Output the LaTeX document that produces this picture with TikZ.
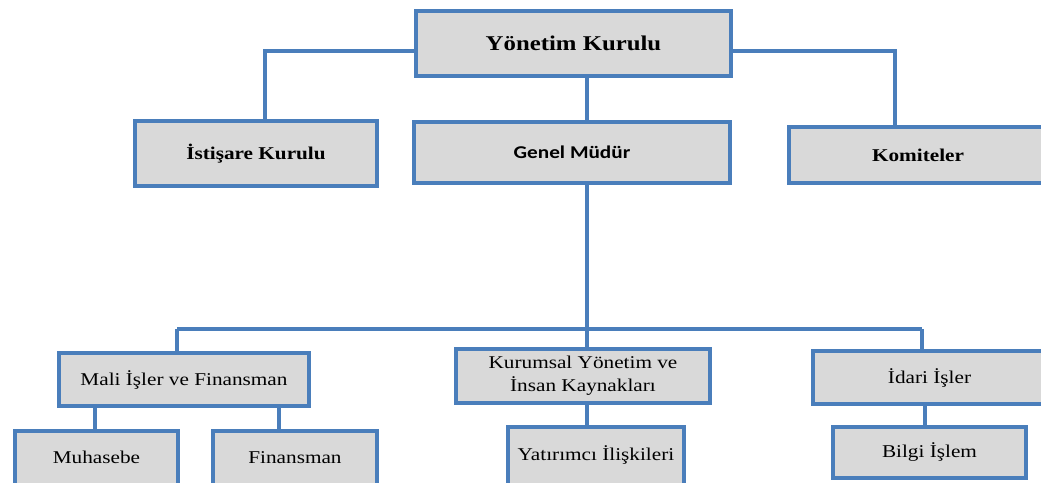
\documentclass[tikz,border=0pt]{standalone}
\usepackage{fontspec}
\setmainfont[FakeStretch=1.18]{Liberation Serif}
\newfontfamily\gmfont[FakeStretch=1.18]{Carlito}
\usetikzlibrary{shadows}
\definecolor{boxblue}{HTML}{4A7EBB}
\definecolor{boxfill}{HTML}{D9D9D9}
\begin{document}
\begin{tikzpicture}[x=1pt,y=-1pt,
  orgbox/.style={draw=boxblue, line width=3.5pt, fill=boxfill, rectangle, inner sep=0pt,
     drop shadow={shadow xshift=1.5pt, shadow yshift=-1.5pt, opacity=0.25, fill=black}},
  link/.style={draw=boxblue, line width=3.5pt},
  topfont/.style={font=\fontsize{21}{24}\selectfont\bfseries},
  midfont/.style={font=\fontsize{18}{22}\selectfont\bfseries},
  lowfont/.style={font=\fontsize{18}{22}\selectfont, align=center}]
\clip (0,0) rectangle (1041,482);
\useasboundingbox (0,0) rectangle (1041,482);
\fill[white] (0,0) rectangle (1041,482);

% top level
\node[orgbox, topfont, minimum width=315pt, minimum height=65pt] (yk) at (573.5,43.5) {Yönetim Kurulu};
\node[orgbox, midfont, minimum width=242pt, minimum height=65pt] (ik) at (256,153.5) {İstişare Kurulu};
\node[orgbox, font=\fontsize{18}{22}\selectfont\gmfont\bfseries, minimum width=316pt, minimum height=61pt] (gm) at (572,152.5) {Genel Müdür};
\node[orgbox, midfont, minimum width=258pt, minimum height=56pt] (km) at (918,155) {Komiteler};

% second level
\node[orgbox, lowfont, minimum width=250pt, minimum height=53pt] (mf) at (184,379.5) {Mali İşler ve Finansman};
\node[orgbox, lowfont, minimum width=254pt, minimum height=54pt] (ky) at (583,376) {Kurumsal Yönetim ve\\[1pt]İnsan Kaynakları};
\node[orgbox, lowfont, minimum width=233pt, minimum height=53pt] (ia) at (929.5,377.5) {İdari İşler};

% third level (boxes run past the lower edge)
\node[orgbox, minimum width=163pt, minimum height=80pt] (mh) at (96.5,471) {};
\node[lowfont] (mht) at (96.5,457) {Muhasebe};
\node[orgbox, minimum width=164pt, minimum height=80pt] (fn) at (295,471) {};
\node[lowfont] (fnt) at (295,458) {Finansman};
\node[orgbox, minimum width=176pt, minimum height=80pt] (yi) at (596,467) {};
\node[lowfont] (yit) at (596,455) {Yatırımcı İlişkileri};
\node[orgbox, lowfont, minimum width=193pt, minimum height=51pt] (bi) at (929.5,452.5) {Bilgi İşlem};

% helper coordinates
\coordinate (ikc) at (265,51);
\coordinate (kmc) at (895,51);
\coordinate (busL) at (177,329);
\coordinate (busM) at (587,329);
\coordinate (busR) at (922,329);

\draw[link] (yk.west |- ikc) -- (ikc) -- (ikc |- ik.north);
\draw[link] (yk.east |- kmc) -- (kmc) -- (kmc |- km.north);
\draw[link] (busM |- yk.south) -- (busM |- gm.north);
\draw[link] (busM |- gm.south) -- (busM);
\draw[link] (busL) -- (busR);
\draw[link] (busL) -- (busL |- mf.north);
\draw[link] (busM) -- (busM |- ky.north);
\draw[link] (busR) -- (busR |- ia.north);
\draw[link] (95,0 |- mf.south) -- (95,0 |- mh.north);
\draw[link] (279,0 |- mf.south) -- (279,0 |- fn.north);
\draw[link] (busM |- ky.south) -- (busM |- yi.north);
\draw[link] (925,0 |- ia.south) -- (925,0 |- bi.north);
\end{tikzpicture}
\end{document}
